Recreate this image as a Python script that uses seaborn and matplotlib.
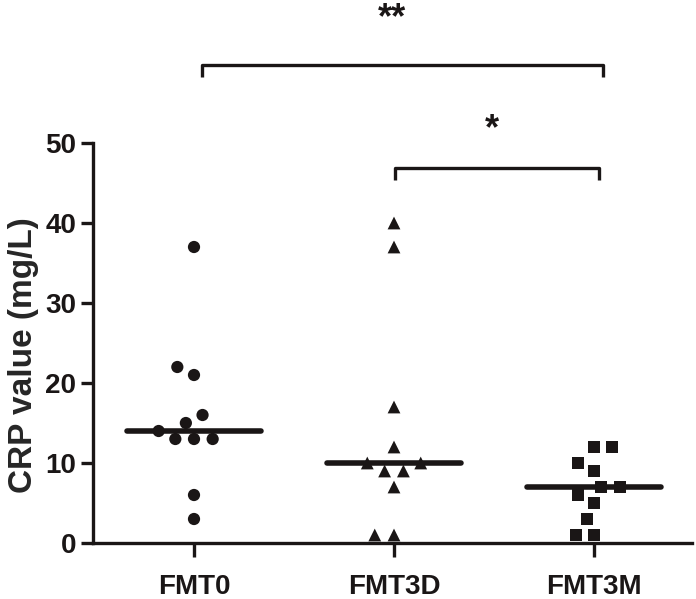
import numpy as np
import pandas as pd
import matplotlib
matplotlib.use("Agg")
import matplotlib.pyplot as plt
import seaborn as sns

categories = ["FMT0", "FMT3D", "FMT3M"]
fmt0 = [37, 22, 21, 16, 15, 14, 13, 13, 13, 6, 3]
fmt3d = [40, 37, 17, 12, 10, 10, 9, 9, 7, 1, 1]
fmt3m = [12, 12, 10, 9, 7, 7, 6, 5, 3, 1, 1]
markers = ["o", "^", "s"]
yticks = [0, 10, 20, 30, 40, 50]
sig_pairs = [("FMT0", "FMT3M", "**"), ("FMT3D", "FMT3M", "*")]

sns.set_style("ticks")
plt.rcParams['font.family'] = ['Liberation Sans', 'DejaVu Sans']
plt.rcParams['font.weight'] = 'bold'

df = pd.DataFrame({
    "group": ["FMT0"] * len(fmt0) + ["FMT3D"] * len(fmt3d) + ["FMT3M"] * len(fmt3m),
    "crp": fmt0 + fmt3d + fmt3m,
})

ink = "#1a1616"
fig = plt.figure(figsize=(6.96, 5.99), dpi=100)
ax = fig.add_axes([93 / 696, 1 - 543 / 599, (692 - 93) / 696, (543 - 143) / 599])

msizes = {"o": 8.8, "^": 9.2, "s": 8.6}
for cat, mk in zip(categories, markers):
    sub = df[df.group == cat]
    sns.swarmplot(data=sub, x="group", y="crp", order=categories, marker=mk,
                  color=ink, size=msizes[mk], ax=ax,
                  zorder=3, linewidth=4.0, edgecolor="none")

meds = df.groupby("group")["crp"].median().reindex(categories).values
for i, m in enumerate(meds):
    ax.hlines(m, i - 0.335, i + 0.335, color=ink, lw=4.0, zorder=4, capstyle="round")

ax.set_xlim(-0.505, 2.49)
ax.set_ylim(0, 50)
ax.set_yticks(yticks)
ax.set_xlabel("")
ax.set_ylabel("CRP value (mg/L)", fontsize=24, fontweight="bold")
ax.yaxis.set_label_coords(-0.09, 0.47)
sns.despine(ax=ax)
for s in ["left", "bottom"]:
    ax.spines[s].set_linewidth(2.4)
    ax.spines[s].set_color(ink)
ax.tick_params(axis="both", width=2.4, length=9, color=ink, labelsize=20,
               labelcolor=ink)
ax.tick_params(axis="y", pad=3)
ax.tick_params(axis="x", length=10, pad=12, labelsize=20)
for lab in ax.get_xticklabels() + ax.get_yticklabels():
    lab.set_fontweight("bold")

# significance brackets
idx = {c: i for i, c in enumerate(categories)}
levels = [(59.8, 0.04, 0.045, 3.5), (46.9, 0.005, 0.025, 2.6)]
for (a, b, txt), (yb, dl, dr, dt) in zip(sig_pairs, levels):
    xa, xb = idx[a] + dl, idx[b] + dr
    ax.plot([xa, xa, xb, xb], [yb - 1.5, yb, yb, yb - 1.5], color=ink, lw=2.4,
            clip_on=False, solid_capstyle="butt")
    ax.text((idx[a] + idx[b]) / 2 - 0.01, yb + dt, txt,
            ha="center", va="bottom", fontsize=26, fontweight="bold",
            color=ink, clip_on=False)

fig.savefig("out.png", dpi=100)
